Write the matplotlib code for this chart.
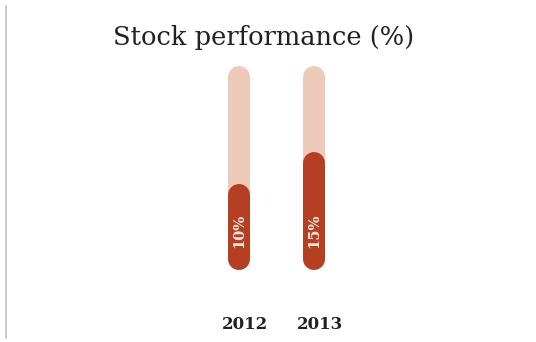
import matplotlib.pyplot as plt
from matplotlib.lines import Line2D

years = ["2012", "2013"]
performance = [10, 15]
value_labels = ["10%", "15%"]

# full length of the background track, in percent
track_max = 28.4

TRACK_COLOR = "#edcab9"
FILL_COLOR = "#b53f22"
TEXT_DARK = "#2b2b2b"

fig = plt.figure(figsize=(5.36, 3.42), dpi=100)

# axes placed so the rounded bars sit in the middle of the card
ax = fig.add_axes([164 / 536, 83 / 342, 225 / 536, 182 / 342])
ax.set_xlim(-1, 2)
ax.set_ylim(0, track_max)
ax.axis("off")

bar_width = 22 * 72 / 100  # pixels -> points

for i, val in enumerate(performance):
    ax.plot([i, i], [0, track_max], color=TRACK_COLOR, lw=bar_width,
            solid_capstyle="round", clip_on=False, zorder=1)
    ax.plot([i, i], [0, val], color=FILL_COLOR, lw=bar_width,
            solid_capstyle="round", clip_on=False, zorder=2)
    ax.text(i, 4.4, value_labels[i], rotation=90, ha="center", va="center",
            color="#f6e7dc", fontsize=10.5, fontweight="bold",
            family="DejaVu Serif", zorder=3)
    ax.text(i + 0.08, -10.2, years[i], ha="center", va="center",
            color="#222222", fontsize=12, fontweight="bold",
            family="DejaVu Serif", clip_on=False)

fig.text(264 / 536, 1 - 38 / 342, "Stock performance (%)", ha="center",
         va="center", fontsize=18.5, color="#222222", family="DejaVu Serif")

# thin card edge on the left
fig.add_artist(Line2D([6 / 536, 6 / 536], [1 - 6 / 342, 1 - 338 / 342],
                      transform=fig.transFigure, color="#c4c4c4", lw=1.2))

fig.savefig("out.png", dpi=100)
